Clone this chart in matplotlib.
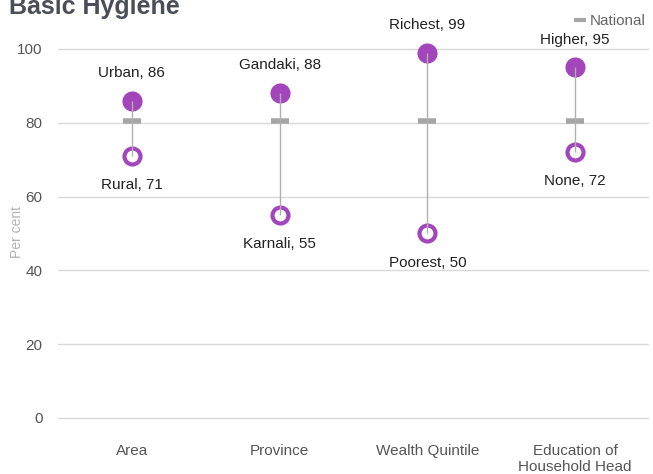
import matplotlib.pyplot as plt
from matplotlib.lines import Line2D
import numpy as np

# data
categories = ['Area', 'Province', 'Wealth Quintile', 'Education of\nHousehold Head']
high_labels = ['Urban', 'Gandaki', 'Richest', 'Higher']
high_values = [86, 88, 99, 95]
low_labels = ['Rural', 'Karnali', 'Poorest', 'None']
low_values = [71, 55, 50, 72]
national = [80.5, 80.5, 80.5, 80.5]

purple = '#a346bb'
grey_line = '#b0b0b0'
text_col = '#555555'

plt.rcParams['font.family'] = ['Liberation Sans', 'DejaVu Sans']

fig = plt.figure(figsize=(6.53, 4.74), dpi=100)
# y=0 at pixel 418, y=100 at pixel 49
ax = fig.add_axes([0.0888, 1 - 420 / 474, 0.905, (420 - 30.5) / 474])

x = np.arange(len(categories))

# national dash
ax.plot(x, national, ls='none', marker='_', ms=13, mew=4, color='#a6a6a6', zorder=3)
# high (filled) and low (ring) points
ax.plot(x, high_values, ls='none', marker='o', ms=14.5, mew=0, color=purple, zorder=4)
ax.plot(x, low_values, ls='none', marker='o', ms=11.5, mew=3, mfc='white', mec=purple, zorder=4)
# connecting line on top
ax.vlines(x, low_values, high_values, color=grey_line, lw=1, zorder=5)

for xi, lab, v in zip(x, high_labels, high_values):
    ax.annotate(f'{lab}, {v}', (xi, v), xytext=(0, 20), textcoords='offset points',
                ha='center', va='center', fontsize=11, color='#222222')
for xi, lab, v in zip(x, low_labels, low_values):
    ax.annotate(f'{lab}, {v}', (xi, v), xytext=(0, -21), textcoords='offset points',
                ha='center', va='center', fontsize=11, color='#222222')

ax.set_xlim(-0.5, 3.5)
ax.set_ylim(-0.55, 105)
ax.set_yticks([0, 20, 40, 60, 80, 100])
ax.set_xticks(x)
ax.set_xticklabels(categories)
ax.tick_params(axis='both', length=0, labelsize=11, colors=text_col)
ax.tick_params(axis='y', pad=11)
ax.tick_params(axis='x', pad=17)
ax.grid(axis='y', color='#d9d9d9', lw=1)
ax.set_axisbelow(True)
for s in ax.spines.values():
    s.set_visible(False)

fig.text(17 / 653, 1 - 232 / 474, 'Per cent', rotation=90, fontsize=10,
         color='#b3b3b3', ha='center', va='center')

leg_handle = Line2D([], [], ls='none', marker='_', ms=9, mew=3, color='#a6a6a6')
fig.legend([leg_handle], ['National'], loc='upper right', bbox_to_anchor=(1.005, 0.993),
           frameon=False, fontsize=11, labelcolor='#666666', handlelength=0.7,
           handletextpad=0.3, borderaxespad=0.3)

fig.text(0.014, 1 - 14 / 474, 'Basic Hygiene', fontsize=18, fontweight='bold',
         color='#4a4f57', va='baseline', ha='left')

fig.savefig('out.png', dpi=100)
